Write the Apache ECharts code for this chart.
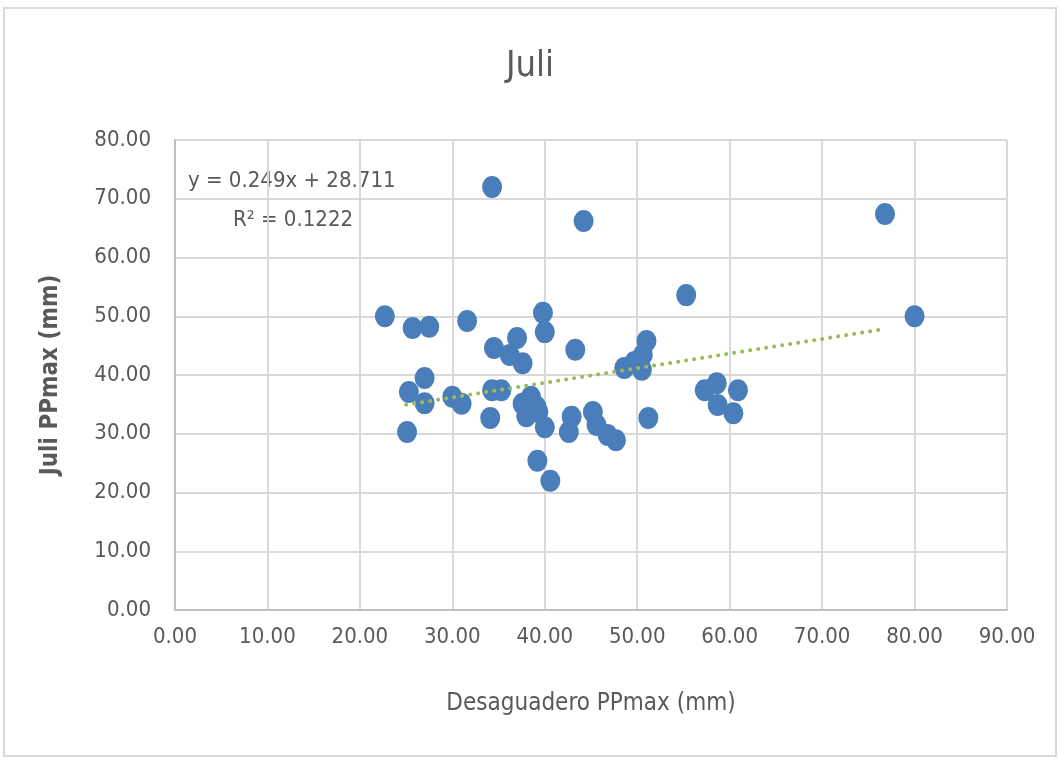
<!DOCTYPE html>
<html><head><meta charset="utf-8">
<script src="https://cdn.jsdelivr.net/npm/echarts@6/dist/echarts.min.js"></script>
<style>html,body{margin:0;padding:0;background:#fff}#c{width:1060px;height:760px}</style>
</head><body><div id="c"></div>
<script>
var desaguadero = [22.7,25.7,27.5,31.6,34.3,44.2,76.8,80.0,55.3,39.8,40.0,37.0,34.5,36.2,37.6,43.3,51.0,50.6,49.7,48.6,50.5,57.3,58.6,58.7,60.9,60.4,51.2,42.9,42.6,45.2,45.6,46.8,47.7,40.0,39.2,40.6,27.0,25.3,27.0,25.1,30.0,31.0,34.3,35.3,34.1,38.5,37.6,39.1,38.0,39.3];
var juli = [50.0,48.0,48.2,49.2,72.0,66.2,67.4,50.0,53.6,50.6,47.3,46.3,44.6,43.4,42.0,44.3,45.8,43.4,42.2,41.2,40.9,37.4,38.6,34.9,37.4,33.5,32.7,32.9,30.3,33.7,31.5,29.8,28.9,31.1,25.4,22.0,39.5,37.1,35.2,30.3,36.3,35.1,37.4,37.4,32.7,36.3,35.1,34.6,33.0,33.7];
var slope = 0.249, intercept = 28.711;
var trendRange = [25.0, 76.3];
var xTicks = [0,10,20,30,40,50,60,70,80,90];
var yTicks = [0,10,20,30,40,50,60,70,80];

var pts = desaguadero.map(function(x,i){return [x, juli[i]];});
var trend = trendRange.map(function(x){return [x, slope*x+intercept];});
var FONT = "'Liberation Sans Narrow','DejaVu Sans Condensed',sans-serif";
var chart = echarts.init(document.getElementById('c'));
chart.setOption({
  animation:false,
  backgroundColor:'#fff',
  graphic:[
    {type:'rect',shape:{x:4,y:8,width:1052,height:748},style:{fill:'none',stroke:'#d9d9d9',lineWidth:2}},
    {type:'text',left:188,top:170,style:{text:'y = 0.249x + 28.711',font:"22px "+FONT,fill:'#595959'}},
    {type:'text',left:233,top:209,style:{text:'R² = 0.1222',font:"22px "+FONT,fill:'#595959'}}
  ],
  title:{text:'Juli',left:'center',top:44,textStyle:{fontFamily:FONT,fontSize:36,fontWeight:'normal',color:'#595959'}},
  grid:{left:175,right:53,top:140,bottom:150},
  xAxis:{type:'value',min:0,max:90,interval:10,
    name:'Desaguadero PPmax (mm)',nameLocation:'middle',nameGap:82,
    nameTextStyle:{fontFamily:FONT,fontSize:24,color:'#595959'},
    axisLine:{show:true,lineStyle:{color:'#bfbfbf',width:2}},axisTick:{show:false},
    axisLabel:{formatter:function(v){return v.toFixed(2);},fontFamily:FONT,fontSize:22,color:'#595959',margin:16},
    splitLine:{show:true,lineStyle:{color:'#d9d9d9',width:2}}},
  yAxis:{type:'value',min:0,max:80,interval:10,
    name:'Juli PPmax (mm)',nameLocation:'middle',nameGap:112,
    nameTextStyle:{fontFamily:FONT,fontSize:24,fontWeight:'bold',color:'#595959'},
    axisLine:{show:true,lineStyle:{color:'#bfbfbf',width:2}},axisTick:{show:false},
    axisLabel:{formatter:function(v){return v.toFixed(2);},fontFamily:FONT,fontSize:22,color:'#595959',margin:24},
    splitLine:{show:true,lineStyle:{color:'#d9d9d9',width:2}}},
  series:[
    {type:'line',data:trend,symbol:'none',z:3,
     lineStyle:{color:'#9bbb59',width:4,type:[0.1,8],cap:'round'}},
    {type:'scatter',data:pts,symbol:'circle',symbolSize:[20,22],z:2,
     itemStyle:{color:'#4a7ebb',opacity:1}}
  ]
});
</script></body></html>
